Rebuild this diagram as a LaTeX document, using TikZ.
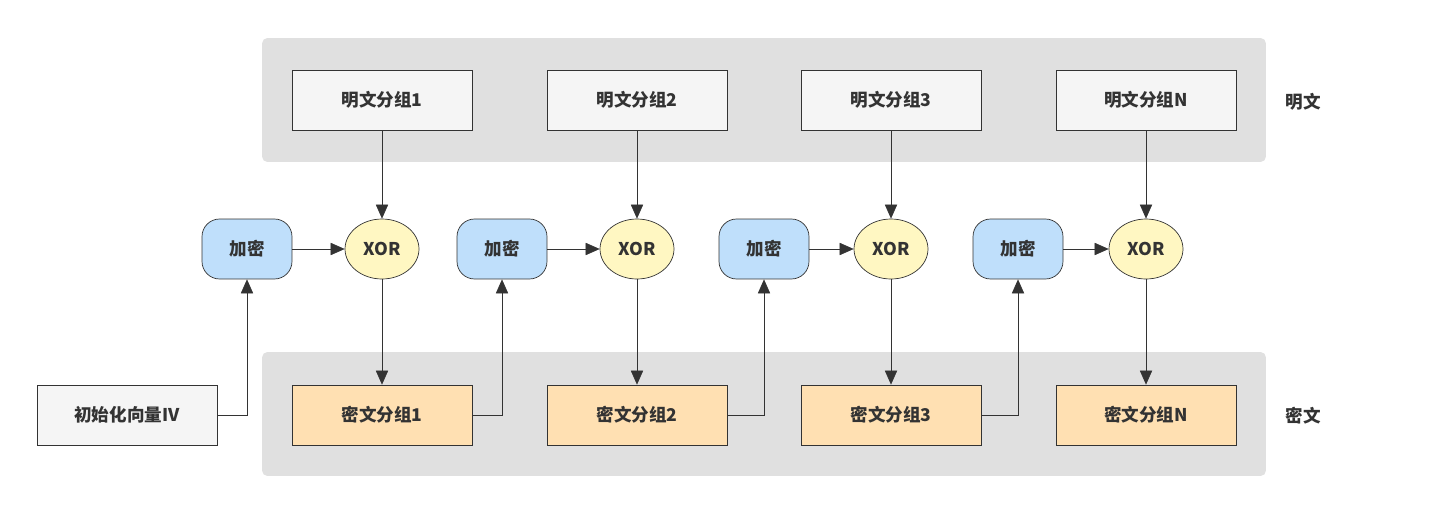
\documentclass[tikz,border=0pt]{standalone}
\usepackage{fontspec}
\setmainfont{Noto Sans CJK SC}
\usetikzlibrary{shapes.geometric,arrows.meta}
\definecolor{bandgray}{HTML}{E0E0E0}
\definecolor{plaingray}{HTML}{F5F5F5}
\definecolor{encblue}{HTML}{BFDFFB}
\definecolor{xoryellow}{HTML}{FFF7C2}
\definecolor{cipherorange}{HTML}{FFE0B2}
\definecolor{linegray}{HTML}{333333}
\begin{document}
\begin{tikzpicture}[x=0.02cm,y=-0.02cm,font=\fontsize{10}{12}\selectfont\bfseries]

\tikzstyle{band}=[rectangle, rounded corners=3pt, fill=bandgray, draw=none, minimum width=20.08cm, minimum height=2.48cm]
\tikzstyle{plain}=[rectangle, draw=linegray, fill=plaingray, minimum width=3.6cm, minimum height=1.2cm, text=linegray]
\tikzstyle{cipher}=[rectangle, draw=linegray, fill=cipherorange, minimum width=3.6cm, minimum height=1.2cm, text=linegray]
\tikzstyle{enc}=[rectangle, rounded corners=10pt, draw=linegray, fill=encblue, minimum width=1.8cm, minimum height=1.2cm, text=linegray]
\tikzstyle{xor}=[ellipse, draw=linegray, fill=xoryellow, minimum width=1.48cm, minimum height=1.2cm, inner sep=0pt, text=linegray]
\tikzstyle{arrow}=[-{Triangle[length=8pt,width=7pt]}, draw=linegray]

\useasboundingbox (0,0) rectangle (1430,514);

\node (bandP) [band] at (764,100) {};
\node (bandC) [band] at (764,414) {};

\node (lblP) [text=linegray] at (1303,102) {明文};
\node (lblC) [text=linegray] at (1303,416) {密文};

\node (iv) [plain] at (127,415) {初始化向量IV};

\foreach \i/\x/\e/\t in {1/382/247/1, 2/637/502/2, 3/891/764/3, 4/1146/1018/N} {
  \node (P\i) [plain]  at (\x,100) {明文分组\t};
  \node (X\i) [xor]    at (\x,249) {XOR};
  \node (E\i) [enc]    at (\e,249) {加密};
  \node (C\i) [cipher] at (\x,415) {密文分组\t};
  \draw [arrow] (P\i) -- (X\i);
  \draw [arrow] (E\i) -- (X\i);
  \draw [arrow] (X\i) -- (C\i);
}

\draw [arrow] (iv.east) -| (E1.south);
\draw [arrow] (C1.east) -| (E2.south);
\draw [arrow] (C2.east) -| (E3.south);
\draw [arrow] (C3.east) -| (E4.south);

\end{tikzpicture}
\end{document}
